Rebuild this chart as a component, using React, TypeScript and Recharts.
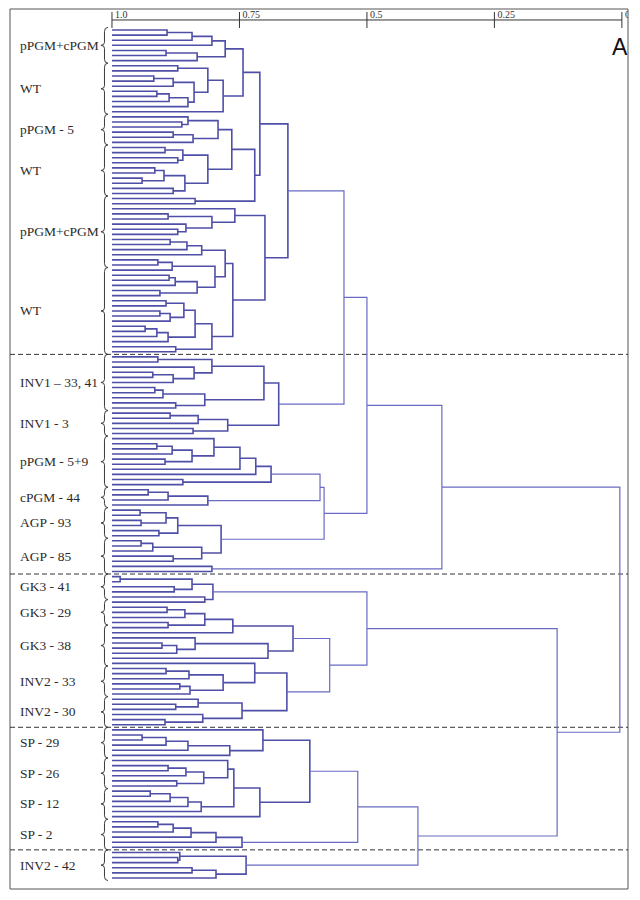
import { ComposedChart, Line, Scatter, XAxis, YAxis, ReferenceLine, ReferenceArea } from "recharts";

type Node = 0 | [number, Node, Node];

// each cluster: [similarity where the two branches join, left, right]; 0 = one sample
const pgmA: Node = [0.778, [0.804, [0.843, [0.892, 0, 0], 0], 0], [0.833, [0.894, 0, 0], 0]];
const wtA: Node = [0.782, [0.812, [0.871, 0, 0], [0.839, [0.88, [0.918, 0, 0], 0], [0.851, [0.888, [0.912, 0, 0], 0], 0]]], 0];
const pgm5: Node = [0.792, [0.851, 0, [0.863, 0, 0]], [0.841, [0.88, 0, 0], 0]];
const wtB: Node = [0.812, [0.861, [0.896, 0, 0], [0.871, 0, 0]], [0.857, [0.898, [0.916, 0, 0], [0.941, 0, 0]], [0.88, 0, 0]]];
const pgmB1: Node = [0.837, 0, 0];
const pgmB2: Node = [0.759, 0, [0.804, [0.89, 0, 0], [0.855, 0, [0.871, 0, 0]]]];
const wtC1: Node = [0.778, [0.824, [0.853, [0.886, 0, 0], 0], 0], [0.798, [0.882, [0.91, 0, 0], 0], [0.833, [0.876, [0.888, 0, 0], 0], [0.906, 0, 0]]]];
const wtC2: Node = [0.804, [0.837, [0.859, [0.894, 0, 0], [0.886, [0.906, 0, 0], 0]], [0.89, [0.912, [0.935, 0, 0], 0], 0]], [0.875, 0, 0]];
const inv1a: Node = [0.702, [0.804, [0.91, 0, 0], [0.839, 0, [0.88, [0.92, 0, 0], 0]]], [0.818, [0.9, [0.916, 0, 0], 0], [0.875, 0, 0]]];
const inv1b: Node = [0.773, [0.831, [0.886, 0, 0], 0], [0.841, 0, 0]];
const pgm59: Node = [0.688, [0.718, [0.749, [0.8, 0, [0.843, [0.882, [0.912, 0, 0], 0], [0.896, 0, 0]]], 0], 0], [0.861, 0, 0]];
const cpgm44: Node = [0.812, [0.89, [0.929, 0, 0], 0], 0];
const agp: Node = [0.786, [0.871, [0.894, [0.945, 0, 0], [0.943, 0, 0]], [0.908, 0, 0]], [0.824, [0.92, [0.943, 0, 0], 0], [0.88, 0, 0]]];
const agpPair: Node = [0.804, 0, 0];
const gk41: Node = [0.802, [0.843, [0.984, 0, 0], [0.878, 0, 0]], [0.818, 0, 0]];
const gk29: Node = [0.763, [0.818, [0.857, [0.892, 0, 0], 0], [0.89, 0, 0]], 0];
const gk38: Node = [0.694, [0.837, 0, [0.873, [0.902, 0, 0], 0]], 0];
const inv233: Node = [0.72, 0, [0.782, [0.849, [0.894, 0, 0], 0], [0.847, [0.867, 0, 0], 0]]];
const inv230: Node = [0.745, [0.831, 0, [0.875, 0, 0]], [0.822, 0, [0.896, 0, 0]]];
const sp29: Node = [0.704, 0, [0.769, [0.851, [0.894, [0.941, 0, 0], 0], 0], 0]];
const sp26: Node = [0.773, 0, [0.82, [0.855, [0.89, 0, 0], 0], [0.873, 0, 0]]];
const sp12: Node = [0.825, [0.851, [0.886, [0.925, 0, 0], 0], 0], 0];
const sp2: Node = [0.745, [0.796, [0.845, [0.88, [0.91, 0, 0], 0], 0], 0], 0];
const inv242: Node = [0.737, [0.867, 0, [0.871, 0, 0]], [0.796, [0.843, 0, 0], 0]];

const clusterA: Node = [0.353,
  [0.5,
    [0.545,
      [0.655,
        [0.71, [0.743, pgmA, wtA], [0.72, [0.765, pgm5, wtB], pgmB1]],
        [0.7, pgmB2, [0.763, wtC1, wtC2]]],
      [0.673, inv1a, inv1b]],
    [0.584, [0.592, pgm59, cpgm44], agp]],
  agpPair];
const clusterB: Node = [0.127,
  [0.5, gk41, [0.573, [0.645, gk29, gk38], [0.657, inv233, inv230]]],
  [0.4, [0.518, [0.612, sp29, [0.71, [0.761, sp26, sp12], 0]], sp2], inv242]];
const tree: Node = [0.004, clusterA, clusterB];

const axisTicks = [1, 0.75, 0.5, 0.25, 0];
const axisTickLabels = ["1.0", "0.75", "0.5", "0.25", "0.0"];

const groupNames = ["pPGM+cPGM", "WT", "pPGM - 5", "WT", "pPGM+cPGM", "WT", "INV1 \u2013 33, 41", "INV1 - 3",
  "pPGM - 5+9", "cPGM - 44", "AGP - 93", "AGP - 85", "GK3 - 41", "GK3 - 29", "GK3 - 38", "INV2 - 33",
  "INV2 - 30", "SP - 29", "SP - 26", "SP - 12", "SP - 2", "INV2 - 42"];
const groupFirst = [0, 7, 17, 23, 33, 47, 64, 75, 80, 90, 94, 100, 107, 112, 117, 125, 131, 137, 143, 149, 155, 161];
const groupLast = [6, 16, 22, 32, 46, 63, 74, 79, 89, 93, 99, 106, 111, 116, 124, 130, 136, 142, 148, 154, 160, 166];

const separators = [63.5, 106.5, 136.5, 160.5];

const W = 632;
const H = 892;
const margin = { top: 1, right: 12, bottom: 11, left: 2 };
const xDomain: [number, number] = [-0.012, 1.2];
const yDomain: [number, number] = [-4.11, 168.16];
const leafPx = (H - margin.top - margin.bottom) / (yDomain[1] - yDomain[0]);
const axisRow = -1.96;

type Pt = { s: number; i: number | null };

function buildLinks(root: Node) {
  const dense: Pt[] = [];
  const upper: Pt[] = [];
  let leaf = 0;
  const walk = (node: Node): { s: number; i: number } => {
    if (node === 0) return { s: 1, i: leaf++ };
    const a = walk(node[1]);
    const b = walk(node[2]);
    const h = node[0];
    const out = h >= 0.6 ? dense : upper;
    out.push({ s: a.s, i: a.i }, { s: h, i: a.i }, { s: h, i: b.i }, { s: b.s, i: b.i }, { s: h, i: null });
    return { s: h, i: (a.i + b.i) / 2 };
  };
  walk(root);
  return { dense, upper };
}

const links = buildLinks(tree);

const labelPoints = groupNames.map((name, k) => ({
  s: 1,
  i: (groupFirst[k] + groupLast[k]) / 2,
  name,
  half: (groupLast[k] - groupFirst[k]) / 2 + 0.5,
}));

const tickPoints = axisTicks.map((t, k) => ({ s: t, i: axisRow, label: axisTickLabels[k] }));

const serif = "'Liberation Serif', 'Times New Roman', serif";

function GroupLabel(props: any) {
  const { cx, cy, payload } = props;
  const h = payload.half * leafPx;
  const tip = cx - 11;
  const end = cx - 4;
  const bx = tip + 3.5;
  const d = `M${end},${cy - h} Q${bx},${cy - h} ${bx},${cy - h + 4} L${bx},${cy - 3} Q${bx},${cy} ${tip},${cy} Q${bx},${cy} ${bx},${cy + 3} L${bx},${cy + h - 4} Q${bx},${cy + h} ${end},${cy + h}`;
  return (
    <g>
      <path d={d} fill="none" stroke="#3a3a3a" strokeWidth={1} />
      <text x={cx - 92} y={cy + 4.5} fontSize={13.5} fontFamily={serif} fill="#2b2b2b">
        {payload.name}
      </text>
    </g>
  );
}

function AxisTick(props: any) {
  const { cx, cy, payload } = props;
  return (
    <g>
      <line x1={cx} x2={cx} y1={cy - 8} y2={cy + 8} stroke="#333" />
      <text x={cx + 3} y={cy - 2} fontSize={10} fontFamily={serif} fill="#333">
        {payload.label}
      </text>
    </g>
  );
}

export default function App() {
  return (
    <div style={{ position: "relative", width: W, height: H }}>
      <ComposedChart width={W} height={H} margin={margin}>
        <XAxis type="number" dataKey="s" domain={xDomain} reversed allowDataOverflow hide height={0} />
        <YAxis type="number" dataKey="i" domain={yDomain} reversed allowDataOverflow hide width={0} />
        <ReferenceArea x1={xDomain[0]} x2={xDomain[1]} y1={yDomain[0]} y2={yDomain[1]} fill="none" stroke="#555" />
        <ReferenceLine segment={[{ x: 1, y: axisRow }, { x: 0, y: axisRow }]} stroke="#333" />
        {separators.map((v) => (
          <ReferenceLine key={v} y={v} stroke="#333" strokeDasharray="5 3" />
        ))}
        <Line
          data={links.dense}
          dataKey="i"
          type="linear"
          stroke="#4f4fa8"
          strokeWidth={1.6}
          dot={false}
          activeDot={false}
          connectNulls={false}
          isAnimationActive={false}
        />
        <Line
          data={links.upper}
          dataKey="i"
          type="linear"
          stroke="#6a6ac4"
          strokeWidth={1.2}
          dot={false}
          activeDot={false}
          connectNulls={false}
          isAnimationActive={false}
        />
        <Scatter data={labelPoints} dataKey="i" shape={(p: any) => <GroupLabel {...p} />} isAnimationActive={false} />
        <Scatter data={tickPoints} dataKey="i" shape={(p: any) => <AxisTick {...p} />} isAnimationActive={false} />
      </ComposedChart>
      <div
        style={{
          position: "absolute",
          left: 604,
          top: 28,
          fontFamily: "'Liberation Sans', Arial, sans-serif",
          fontSize: 23,
          lineHeight: 1,
          color: "#111",
        }}
      >
        A
      </div>
    </div>
  );
}
